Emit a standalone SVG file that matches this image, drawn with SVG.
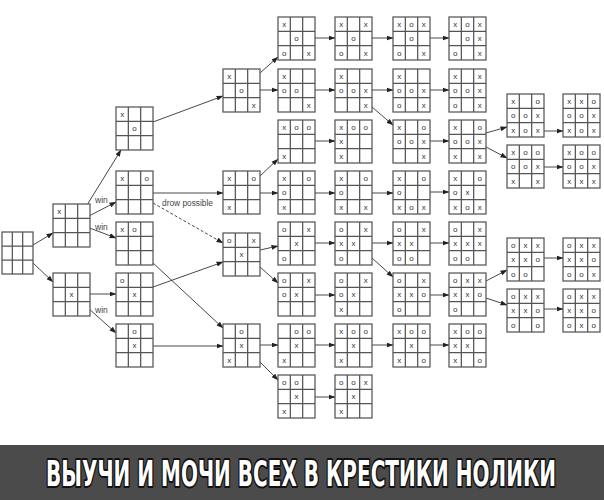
<svg xmlns="http://www.w3.org/2000/svg" xmlns:xlink="http://www.w3.org/1999/xlink" width="604" height="500" viewBox="0 0 604 500">
<style>
.g{fill:#fff;stroke:#555;stroke-width:1.25}
.m{font-family:"Liberation Sans",Arial,sans-serif;font-size:8px;text-anchor:middle;fill:#333}
.c line{stroke:#333;stroke-width:0.9;marker-end:url(#ah)}
.c line.d{stroke-dasharray:3 2}
.lb{font-family:"Liberation Sans",Arial,sans-serif;font-size:8.5px;fill:#444}
.ban{font-family:"DejaVu Sans Condensed","DejaVu Sans",sans-serif;font-weight:bold;font-size:36px;fill:#fff;stroke:#111;stroke-width:4;paint-order:stroke;stroke-linejoin:round;text-anchor:middle}
</style>
<defs>
<marker id="ah" markerWidth="7" markerHeight="6" refX="6.5" refY="3" orient="auto" markerUnits="userSpaceOnUse"><path d="M0,0.5 L7,3 L0,5.5 Z" fill="#222"/></marker>
<g id="grid"><rect class="g" x="0" y="0" width="37" height="43"/><path d="M12.33,0V43M24.67,0V43M0,14.33H37M0,28.67H37" stroke="#555" stroke-width="1.25" fill="none"/></g>
<g id="grid0"><rect class="g" x="0" y="0" width="31" height="42"/><path d="M10.33,0V42M20.67,0V42M0,14H31M0,28H31" stroke="#555" stroke-width="1.25" fill="none"/></g>
</defs>
<rect width="604" height="500" fill="#fff"/>

<g id="connectors" class="c">
<line x1="33" y1="245" x2="53" y2="233"/>
<line x1="33" y1="263" x2="53" y2="282"/>
<line x1="87" y1="205" x2="121" y2="150"/>
<line x1="87" y1="217" x2="116" y2="202"/>
<line x1="87" y1="227" x2="116" y2="238"/>
<line x1="87" y1="294" x2="116" y2="294"/>
<line x1="87" y1="307" x2="116" y2="333"/>
<line x1="153" y1="122" x2="223" y2="96"/>
<line x1="153" y1="193" x2="223" y2="193"/>
<line class="d" x1="153" y1="203" x2="223" y2="243"/>
<line x1="153" y1="263" x2="223" y2="328"/>
<line x1="153" y1="287" x2="223" y2="262"/>
<line x1="153" y1="346" x2="223" y2="346"/>
<line x1="260" y1="73" x2="278" y2="57"/>
<line x1="260" y1="90" x2="278" y2="90"/>
<line x1="260" y1="176" x2="278" y2="159"/>
<line x1="260" y1="193" x2="278" y2="193"/>
<line x1="260" y1="250" x2="278" y2="246"/>
<line x1="260" y1="267" x2="278" y2="283"/>
<line x1="260" y1="345" x2="278" y2="345"/>
<line x1="260" y1="362" x2="278" y2="380"/>
<line x1="315" y1="38" x2="335" y2="38"/>
<line x1="315" y1="90" x2="335" y2="90"/>
<line x1="315" y1="141" x2="335" y2="141"/>
<line x1="315" y1="193" x2="335" y2="193"/>
<line x1="315" y1="243" x2="335" y2="243"/>
<line x1="315" y1="295" x2="335" y2="295"/>
<line x1="315" y1="345" x2="335" y2="345"/>
<line x1="315" y1="397" x2="335" y2="397"/>
<line x1="372" y1="38" x2="393" y2="38"/>
<line x1="372" y1="90" x2="393" y2="90"/>
<line x1="372" y1="107" x2="393" y2="125"/>
<line x1="372" y1="193" x2="393" y2="193"/>
<line x1="372" y1="243" x2="393" y2="243"/>
<line x1="372" y1="258" x2="393" y2="277"/>
<line x1="372" y1="345" x2="393" y2="345"/>
<line x1="430" y1="38" x2="449" y2="38"/>
<line x1="430" y1="90" x2="449" y2="90"/>
<line x1="430" y1="141" x2="449" y2="141"/>
<line x1="430" y1="192" x2="449" y2="192"/>
<line x1="430" y1="243" x2="449" y2="243"/>
<line x1="430" y1="295" x2="449" y2="295"/>
<line x1="430" y1="345" x2="449" y2="345"/>
<line x1="486" y1="133" x2="507" y2="127"/>
<line x1="486" y1="147" x2="507" y2="158"/>
<line x1="486" y1="281" x2="507" y2="270"/>
<line x1="486" y1="298" x2="507" y2="305"/>
<line x1="544" y1="131" x2="563" y2="131"/>
<line x1="544" y1="167" x2="563" y2="167"/>
<line x1="544" y1="258" x2="563" y2="258"/>
<line x1="544" y1="309" x2="563" y2="309"/>
<text class="lb" x="95" y="202.5">win</text>
<text class="lb" x="95" y="229.5">win</text>
<text class="lb" x="95" y="312.5">win</text>
<text class="lb" x="162" y="206" textLength="51" lengthAdjust="spacingAndGlyphs">drow possible</text>
</g>

<g id="b0" transform="translate(2,232)"><use xlink:href="#grid0"/></g>

<g id="b1a" transform="translate(53,204)"><use xlink:href="#grid"/><text class="m" x="6.2" y="10">x</text></g>
<g id="b1b" transform="translate(53,273)"><use xlink:href="#grid"/><text class="m" x="18.5" y="24.3">x</text></g>

<g id="b2a" transform="translate(116,107)"><use xlink:href="#grid"/><text class="m" x="6.2" y="10">x</text><text class="m" x="18.5" y="24.3">o</text></g>
<g id="b2b" transform="translate(116,171)"><use xlink:href="#grid"/><text class="m" x="6.2" y="10">x</text><text class="m" x="30.8" y="10">o</text></g>
<g id="b2c" transform="translate(116,222)"><use xlink:href="#grid"/><text class="m" x="6.2" y="10">x</text><text class="m" x="18.5" y="10">o</text></g>
<g id="b2d" transform="translate(116,273)"><use xlink:href="#grid"/><text class="m" x="6.2" y="10">o</text><text class="m" x="18.5" y="24.3">x</text></g>
<g id="b2e" transform="translate(116,324)"><use xlink:href="#grid"/><text class="m" x="18.5" y="10">o</text><text class="m" x="18.5" y="24.3">x</text></g>

<g id="b3a" transform="translate(223,69)"><use xlink:href="#grid"/><text class="m" x="6.2" y="10">x</text><text class="m" x="18.5" y="24.3">o</text><text class="m" x="30.8" y="38.6">x</text></g>
<g id="b3b" transform="translate(223,171)"><use xlink:href="#grid"/><text class="m" x="6.2" y="10">x</text><text class="m" x="30.8" y="10">o</text><text class="m" x="6.2" y="38.6">x</text></g>
<g id="b3c" transform="translate(223,233)"><use xlink:href="#grid"/><text class="m" x="6.2" y="10">o</text><text class="m" x="30.8" y="10">x</text><text class="m" x="18.5" y="24.3">x</text></g>
<g id="b3d" transform="translate(223,324)"><use xlink:href="#grid"/><text class="m" x="18.5" y="10">o</text><text class="m" x="18.5" y="24.3">x</text><text class="m" x="6.2" y="38.6">x</text></g>

<g id="b4r1" transform="translate(278,17)"><use xlink:href="#grid"/><text class="m" x="6.2" y="10">x</text><text class="m" x="18.5" y="24.3">o</text><text class="m" x="6.2" y="38.6">o</text><text class="m" x="30.8" y="38.6">x</text></g>
<g id="b4r2" transform="translate(278,69)"><use xlink:href="#grid"/><text class="m" x="6.2" y="10">x</text><text class="m" x="6.2" y="24.3">o</text><text class="m" x="18.5" y="24.3">o</text><text class="m" x="30.8" y="38.6">x</text></g>
<g id="b4r3" transform="translate(278,120)"><use xlink:href="#grid"/><text class="m" x="6.2" y="10">x</text><text class="m" x="18.5" y="10">o</text><text class="m" x="30.8" y="10">o</text><text class="m" x="6.2" y="38.6">x</text></g>
<g id="b4r4" transform="translate(278,171)"><use xlink:href="#grid"/><text class="m" x="6.2" y="10">x</text><text class="m" x="30.8" y="10">o</text><text class="m" x="6.2" y="24.3">o</text><text class="m" x="6.2" y="38.6">x</text></g>
<g id="b4r5" transform="translate(278,222)"><use xlink:href="#grid"/><text class="m" x="6.2" y="10">o</text><text class="m" x="30.8" y="10">x</text><text class="m" x="18.5" y="24.3">x</text><text class="m" x="6.2" y="38.6">o</text></g>
<g id="b4r6" transform="translate(278,273)"><use xlink:href="#grid"/><text class="m" x="6.2" y="10">o</text><text class="m" x="30.8" y="10">x</text><text class="m" x="6.2" y="24.3">o</text><text class="m" x="18.5" y="24.3">x</text></g>
<g id="b4r7" transform="translate(278,324)"><use xlink:href="#grid"/><text class="m" x="18.5" y="10">o</text><text class="m" x="30.8" y="10">o</text><text class="m" x="18.5" y="24.3">x</text><text class="m" x="6.2" y="38.6">x</text></g>
<g id="b4r8" transform="translate(278,375)"><use xlink:href="#grid"/><text class="m" x="6.2" y="10">o</text><text class="m" x="18.5" y="10">o</text><text class="m" x="18.5" y="24.3">x</text><text class="m" x="6.2" y="38.6">x</text></g>

<g id="b5r1" transform="translate(335,17)"><use xlink:href="#grid"/><text class="m" x="6.2" y="10">x</text><text class="m" x="30.8" y="10">x</text><text class="m" x="18.5" y="24.3">o</text><text class="m" x="6.2" y="38.6">o</text><text class="m" x="30.8" y="38.6">x</text></g>
<g id="b5r2" transform="translate(335,69)"><use xlink:href="#grid"/><text class="m" x="6.2" y="10">x</text><text class="m" x="6.2" y="24.3">o</text><text class="m" x="18.5" y="24.3">o</text><text class="m" x="30.8" y="24.3">x</text><text class="m" x="30.8" y="38.6">x</text></g>
<g id="b5r3" transform="translate(335,120)"><use xlink:href="#grid"/><text class="m" x="6.2" y="10">x</text><text class="m" x="18.5" y="10">o</text><text class="m" x="30.8" y="10">o</text><text class="m" x="6.2" y="24.3">x</text><text class="m" x="6.2" y="38.6">x</text></g>
<g id="b5r4" transform="translate(335,171)"><use xlink:href="#grid"/><text class="m" x="6.2" y="10">x</text><text class="m" x="30.8" y="10">o</text><text class="m" x="6.2" y="24.3">o</text><text class="m" x="6.2" y="38.6">x</text><text class="m" x="30.8" y="38.6">x</text></g>
<g id="b5r5" transform="translate(335,222)"><use xlink:href="#grid"/><text class="m" x="6.2" y="10">o</text><text class="m" x="30.8" y="10">x</text><text class="m" x="6.2" y="24.3">x</text><text class="m" x="18.5" y="24.3">x</text><text class="m" x="6.2" y="38.6">o</text></g>
<g id="b5r6" transform="translate(335,273)"><use xlink:href="#grid"/><text class="m" x="6.2" y="10">o</text><text class="m" x="30.8" y="10">x</text><text class="m" x="6.2" y="24.3">o</text><text class="m" x="18.5" y="24.3">x</text><text class="m" x="6.2" y="38.6">x</text></g>
<g id="b5r7" transform="translate(335,324)"><use xlink:href="#grid"/><text class="m" x="6.2" y="10">x</text><text class="m" x="18.5" y="10">o</text><text class="m" x="30.8" y="10">o</text><text class="m" x="18.5" y="24.3">x</text><text class="m" x="6.2" y="38.6">x</text></g>
<g id="b5r8" transform="translate(335,375)"><use xlink:href="#grid"/><text class="m" x="6.2" y="10">o</text><text class="m" x="18.5" y="10">o</text><text class="m" x="30.8" y="10">x</text><text class="m" x="18.5" y="24.3">x</text><text class="m" x="6.2" y="38.6">x</text></g>

<g id="b6r1" transform="translate(393,17)"><use xlink:href="#grid"/><text class="m" x="6.2" y="10">x</text><text class="m" x="18.5" y="10">o</text><text class="m" x="30.8" y="10">x</text><text class="m" x="18.5" y="24.3">o</text><text class="m" x="6.2" y="38.6">o</text><text class="m" x="30.8" y="38.6">x</text></g>
<g id="b6r2" transform="translate(393,69)"><use xlink:href="#grid"/><text class="m" x="6.2" y="10">x</text><text class="m" x="6.2" y="24.3">o</text><text class="m" x="18.5" y="24.3">o</text><text class="m" x="30.8" y="24.3">x</text><text class="m" x="6.2" y="38.6">o</text><text class="m" x="30.8" y="38.6">x</text></g>
<g id="b6r3" transform="translate(393,120)"><use xlink:href="#grid"/><text class="m" x="6.2" y="10">x</text><text class="m" x="30.8" y="10">o</text><text class="m" x="6.2" y="24.3">o</text><text class="m" x="18.5" y="24.3">o</text><text class="m" x="30.8" y="24.3">x</text><text class="m" x="30.8" y="38.6">x</text></g>
<g id="b6r4" transform="translate(393,171)"><use xlink:href="#grid"/><text class="m" x="6.2" y="10">x</text><text class="m" x="30.8" y="10">o</text><text class="m" x="6.2" y="24.3">o</text><text class="m" x="6.2" y="38.6">x</text><text class="m" x="18.5" y="38.6">o</text><text class="m" x="30.8" y="38.6">x</text></g>
<g id="b6r5" transform="translate(393,222)"><use xlink:href="#grid"/><text class="m" x="6.2" y="10">o</text><text class="m" x="30.8" y="10">x</text><text class="m" x="6.2" y="24.3">x</text><text class="m" x="18.5" y="24.3">x</text><text class="m" x="6.2" y="38.6">o</text><text class="m" x="18.5" y="38.6">o</text></g>
<g id="b6r6" transform="translate(393,273)"><use xlink:href="#grid"/><text class="m" x="6.2" y="10">o</text><text class="m" x="30.8" y="10">x</text><text class="m" x="6.2" y="24.3">x</text><text class="m" x="18.5" y="24.3">x</text><text class="m" x="30.8" y="24.3">o</text><text class="m" x="6.2" y="38.6">o</text></g>
<g id="b6r7" transform="translate(393,324)"><use xlink:href="#grid"/><text class="m" x="6.2" y="10">x</text><text class="m" x="18.5" y="10">o</text><text class="m" x="30.8" y="10">o</text><text class="m" x="18.5" y="24.3">x</text><text class="m" x="6.2" y="38.6">x</text><text class="m" x="30.8" y="38.6">o</text></g>

<g id="b7r1" transform="translate(449,17)"><use xlink:href="#grid"/><text class="m" x="6.2" y="10">x</text><text class="m" x="18.5" y="10">o</text><text class="m" x="30.8" y="10">x</text><text class="m" x="18.5" y="24.3">o</text><text class="m" x="30.8" y="24.3">x</text><text class="m" x="6.2" y="38.6">o</text><text class="m" x="30.8" y="38.6">x</text></g>
<g id="b7r2" transform="translate(449,69)"><use xlink:href="#grid"/><text class="m" x="6.2" y="10">x</text><text class="m" x="30.8" y="10">x</text><text class="m" x="6.2" y="24.3">o</text><text class="m" x="18.5" y="24.3">o</text><text class="m" x="30.8" y="24.3">x</text><text class="m" x="6.2" y="38.6">o</text><text class="m" x="30.8" y="38.6">x</text></g>
<g id="b7r3" transform="translate(449,120)"><use xlink:href="#grid"/><text class="m" x="6.2" y="10">x</text><text class="m" x="30.8" y="10">o</text><text class="m" x="6.2" y="24.3">o</text><text class="m" x="18.5" y="24.3">o</text><text class="m" x="30.8" y="24.3">x</text><text class="m" x="6.2" y="38.6">x</text><text class="m" x="30.8" y="38.6">x</text></g>
<g id="b7r4" transform="translate(449,171)"><use xlink:href="#grid"/><text class="m" x="6.2" y="10">x</text><text class="m" x="30.8" y="10">o</text><text class="m" x="6.2" y="24.3">o</text><text class="m" x="18.5" y="24.3">x</text><text class="m" x="6.2" y="38.6">x</text><text class="m" x="18.5" y="38.6">o</text><text class="m" x="30.8" y="38.6">x</text></g>
<g id="b7r5" transform="translate(449,222)"><use xlink:href="#grid"/><text class="m" x="6.2" y="10">o</text><text class="m" x="30.8" y="10">x</text><text class="m" x="6.2" y="24.3">x</text><text class="m" x="18.5" y="24.3">x</text><text class="m" x="30.8" y="24.3">x</text><text class="m" x="6.2" y="38.6">o</text><text class="m" x="18.5" y="38.6">o</text></g>
<g id="b7r6" transform="translate(449,273)"><use xlink:href="#grid"/><text class="m" x="6.2" y="10">o</text><text class="m" x="18.5" y="10">x</text><text class="m" x="30.8" y="10">x</text><text class="m" x="6.2" y="24.3">x</text><text class="m" x="18.5" y="24.3">x</text><text class="m" x="30.8" y="24.3">o</text><text class="m" x="6.2" y="38.6">o</text></g>
<g id="b7r7" transform="translate(449,324)"><use xlink:href="#grid"/><text class="m" x="6.2" y="10">x</text><text class="m" x="18.5" y="10">o</text><text class="m" x="30.8" y="10">o</text><text class="m" x="6.2" y="24.3">x</text><text class="m" x="18.5" y="24.3">x</text><text class="m" x="6.2" y="38.6">x</text><text class="m" x="30.8" y="38.6">o</text></g>

<g id="b8a" transform="translate(507,94)"><use xlink:href="#grid"/><text class="m" x="6.2" y="10">x</text><text class="m" x="30.8" y="10">o</text><text class="m" x="6.2" y="24.3">o</text><text class="m" x="18.5" y="24.3">o</text><text class="m" x="30.8" y="24.3">x</text><text class="m" x="6.2" y="38.6">x</text><text class="m" x="18.5" y="38.6">o</text><text class="m" x="30.8" y="38.6">x</text></g>
<g id="b8b" transform="translate(507,145)"><use xlink:href="#grid"/><text class="m" x="6.2" y="10">x</text><text class="m" x="18.5" y="10">o</text><text class="m" x="30.8" y="10">o</text><text class="m" x="6.2" y="24.3">o</text><text class="m" x="18.5" y="24.3">o</text><text class="m" x="30.8" y="24.3">x</text><text class="m" x="6.2" y="38.6">x</text><text class="m" x="30.8" y="38.6">x</text></g>
<g id="b8c" transform="translate(507,238)"><use xlink:href="#grid"/><text class="m" x="6.2" y="10">o</text><text class="m" x="18.5" y="10">x</text><text class="m" x="30.8" y="10">x</text><text class="m" x="6.2" y="24.3">x</text><text class="m" x="18.5" y="24.3">x</text><text class="m" x="30.8" y="24.3">o</text><text class="m" x="6.2" y="38.6">o</text><text class="m" x="18.5" y="38.6">o</text></g>
<g id="b8d" transform="translate(507,289)"><use xlink:href="#grid"/><text class="m" x="6.2" y="10">o</text><text class="m" x="18.5" y="10">x</text><text class="m" x="30.8" y="10">x</text><text class="m" x="6.2" y="24.3">x</text><text class="m" x="18.5" y="24.3">x</text><text class="m" x="30.8" y="24.3">o</text><text class="m" x="6.2" y="38.6">o</text><text class="m" x="30.8" y="38.6">o</text></g>

<g id="b9a" transform="translate(563,94)"><use xlink:href="#grid"/><text class="m" x="6.2" y="10">x</text><text class="m" x="18.5" y="10">x</text><text class="m" x="30.8" y="10">o</text><text class="m" x="6.2" y="24.3">o</text><text class="m" x="18.5" y="24.3">o</text><text class="m" x="30.8" y="24.3">x</text><text class="m" x="6.2" y="38.6">x</text><text class="m" x="18.5" y="38.6">o</text><text class="m" x="30.8" y="38.6">x</text></g>
<g id="b9b" transform="translate(563,145)"><use xlink:href="#grid"/><text class="m" x="6.2" y="10">x</text><text class="m" x="18.5" y="10">o</text><text class="m" x="30.8" y="10">o</text><text class="m" x="6.2" y="24.3">o</text><text class="m" x="18.5" y="24.3">o</text><text class="m" x="30.8" y="24.3">x</text><text class="m" x="6.2" y="38.6">x</text><text class="m" x="18.5" y="38.6">x</text><text class="m" x="30.8" y="38.6">x</text></g>
<g id="b9c" transform="translate(563,238)"><use xlink:href="#grid"/><text class="m" x="6.2" y="10">o</text><text class="m" x="18.5" y="10">x</text><text class="m" x="30.8" y="10">x</text><text class="m" x="6.2" y="24.3">x</text><text class="m" x="18.5" y="24.3">x</text><text class="m" x="30.8" y="24.3">o</text><text class="m" x="6.2" y="38.6">o</text><text class="m" x="18.5" y="38.6">o</text><text class="m" x="30.8" y="38.6">x</text></g>
<g id="b9d" transform="translate(563,289)"><use xlink:href="#grid"/><text class="m" x="6.2" y="10">o</text><text class="m" x="18.5" y="10">x</text><text class="m" x="30.8" y="10">x</text><text class="m" x="6.2" y="24.3">x</text><text class="m" x="18.5" y="24.3">x</text><text class="m" x="30.8" y="24.3">o</text><text class="m" x="6.2" y="38.6">o</text><text class="m" x="18.5" y="38.6">x</text><text class="m" x="30.8" y="38.6">o</text></g>

<g id="banner">
<rect x="0" y="445" width="604" height="55" fill="#4b4b4b"/>
<text class="ban" transform="translate(301,486) scale(0.6,1)" x="0" y="0" textLength="850" lengthAdjust="spacingAndGlyphs">ВЫУЧИ И МОЧИ ВСЕХ В КРЕСТИКИ НОЛИКИ</text>
</g>
</svg>
